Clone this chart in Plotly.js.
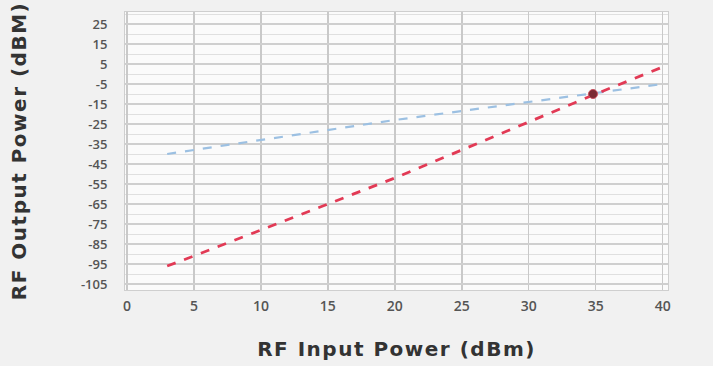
<!DOCTYPE html>
<html><head><meta charset="utf-8">
<script src="https://cdn.plot.ly/plotly-3.0.1.min.js"></script>
<style>html,body{margin:0;padding:0;background:#f1f1f1;}#chart{width:713px;height:366px;}
.xtitle,.ytitle{letter-spacing:1.5px;}</style>
</head><body><div id="chart"></div>
<script>
const inputPower = [3, 5, 10, 15, 20, 25, 30, 35, 40];
const fundamental = [-40, -38, -33, -28, -23, -18.5, -14, -9.5, -5];
const im3 = [-96, -91, -78, -65, -52, -38, -24, -10, 3.5];
const interceptX = [34.8];
const interceptY = [-10];
const xTicks = [0, 5, 10, 15, 20, 25, 30, 35, 40];
const yTicks = [25, 15, 5, -5, -15, -25, -35, -45, -55, -65, -75, -85, -95, -105];

const traces = [
  {x: inputPower, y: fundamental, mode: 'lines', type: 'scatter',
   line: {color: '#9cc0e2', width: 2.2, dash: 'dash'}},
  {x: inputPower, y: im3, mode: 'lines', type: 'scatter',
   line: {color: '#e23a55', width: 2.8, dash: 'dash'}},
  {x: interceptX, y: interceptY, mode: 'markers', type: 'scatter',
   marker: {color: '#7a2a33', size: 9, line: {color: '#c9505f', width: 1}}}
];

const layout = {
  width: 713, height: 366,
  margin: {l: 125, r: 45, t: 12, b: 76},
  paper_bgcolor: '#f1f1f1',
  plot_bgcolor: '#fbfbfb',
  showlegend: false,
  font: {family: 'DejaVu Sans, sans-serif', color: '#444'},
  xaxis: {
    range: [-0.15, 40.4],
    tickvals: xTicks, ticktext: xTicks.map(String),
    showgrid: true, gridcolor: '#c9c9c9', gridwidth: 1.5,
    zeroline: false, showline: true, linecolor: '#cfcfcf', mirror: true,
    ticks: '', ticklen: 0, ticklabelstandoff: 3,
    tickfont: {size: 14, color: '#555', family: 'Open Sans, sans-serif', weight: 600},
    title: {text: '<b>RF Input Power (dBm)</b>', font: {size: 20, color: '#333'}, standoff: 28}
  },
  yaxis: {
    range: [-108, 31],
    tickvals: yTicks, ticktext: yTicks.map(String),
    showgrid: true, gridcolor: '#cfcfcf', gridwidth: 1.5,
    minor: {dtick: 5, tick0: 0, showgrid: true, gridcolor: '#e0e0e0', gridwidth: 1},
    zeroline: false, showline: true, linecolor: '#cfcfcf', mirror: true,
    ticks: '', ticklabelstandoff: 14,
    tickfont: {size: 13, color: '#555', family: 'Open Sans, sans-serif', weight: 600},
    title: {text: '<b>RF Output Power (dBM)</b>', font: {size: 20, color: '#333'}, standoff: 48}
  }
};
Plotly.newPlot('chart', traces, layout, {displayModeBar: false, staticPlot: true});
</script></body></html>
